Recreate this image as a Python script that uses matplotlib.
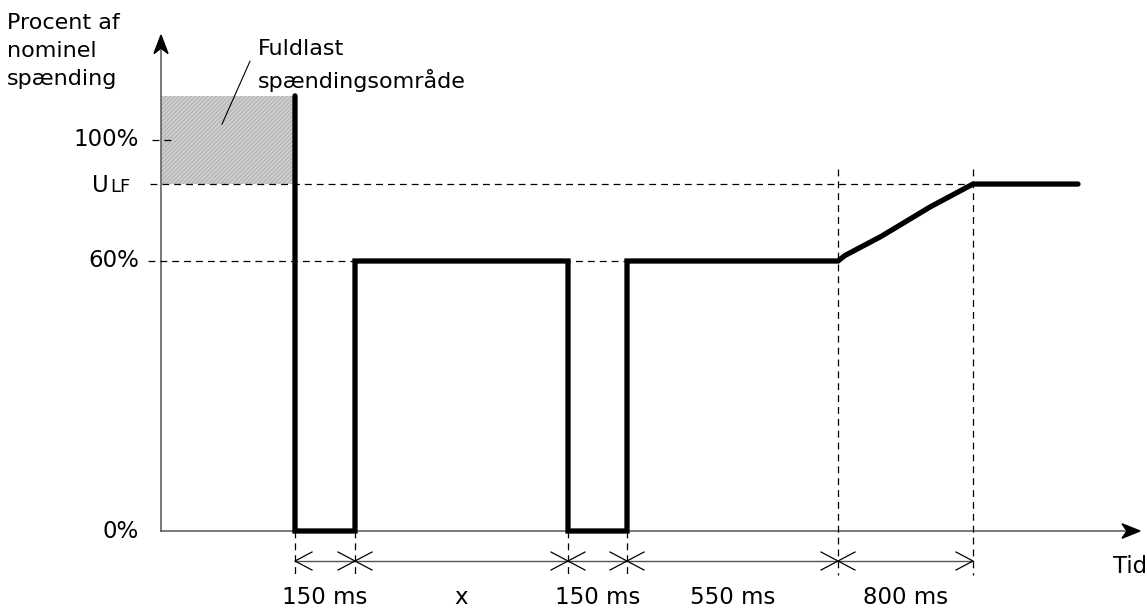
import matplotlib
matplotlib.use("Agg")
import matplotlib.pyplot as plt
from matplotlib.patches import Polygon, Rectangle
import numpy as np

plt.rcParams['font.family'] = ['DejaVu Sans']
plt.rcParams['hatch.linewidth'] = 0.6

# ---- data (schematic units) ----
segment_widths = [134, 60, 213, 59, 211, 135, 105]          # pre-fault, 150ms, x, 150ms, 550ms, 800ms, tail
segment_labels = ["", "150 ms", "x", "150 ms", "550 ms", "800 ms", ""]
level_names = ["0%", "60%", "ULF", "100%"]
level_pos = [0, 60, 77.1, 86.9]
band_top = 96.7                                              # top of full-load band
ramp_frac_x = [0.0, 0.05, 0.32, 0.68, 1.0]                   # ramp shape (fraction of 800 ms)
ramp_frac_y = [0.0, 0.07, 0.32, 0.70, 1.0]

edges = np.concatenate([[0], np.cumsum(segment_widths)])
t0, t1, t2, t3, t4, t5, t6 = edges[1:]
y0, y60, yulf, y100 = level_pos

# ---- figure ----
W, H = 1147, 610
ox, oy, ppu = 161, 531, 4.5
fig = plt.figure(figsize=(W/100, H/100), dpi=100)
ax = fig.add_axes([0, 0, 1, 1])
ax.set_xlim(-ox, W - ox)
ax.set_ylim(-(H - oy)/ppu, oy/ppu)
ax.axis('off')

axcol = '#555555'
dash = (0, (5.5, 4))
# shaded band
ax.add_patch(Rectangle((0, yulf), t0, band_top - yulf, facecolor='#cfcfcf',
                       edgecolor='#a9a9a9', hatch='////////', lw=0, zorder=1))
# axes lines
ax.plot([0, 0], [0, 107], color=axcol, lw=1.1, zorder=2)
ax.plot([0, 970], [0, 0], color=axcol, lw=1.1, zorder=2)
ya_tip = 110.2
ax.add_patch(Polygon([(0, ya_tip), (-7, ya_tip - 4.1), (0, ya_tip - 2.9), (7, ya_tip - 4.1)],
                     closed=True, color='black', zorder=3))
xa_tip = 979
ax.add_patch(Polygon([(xa_tip, 0), (xa_tip - 18, 1.6), (xa_tip - 13, 0), (xa_tip - 18, -1.6)],
                     closed=True, color='black', zorder=3))

# dashed reference lines
ax.plot([-11, t5], [yulf, yulf], color='black', lw=0.9, ls=dash, zorder=2)
ax.plot([-13, t3], [y60, y60], color='black', lw=0.9, ls=dash, zorder=2)
ax.plot([-9, 14], [y100, y100], color='black', lw=0.9, ls=dash, zorder=2)
for xv in [t4, t5]:
    ax.plot([xv, xv], [80.4, -9.8], color='black', lw=0.9, ls=dash, zorder=2)
for xv in [t0, t1, t2, t3]:
    ax.plot([xv, xv], [0, -9.8], color='black', lw=0.9, ls=dash, zorder=2)

# dimension line
ydim = -6.67
ax.plot([t0, t5], [ydim, ydim], color=axcol, lw=1.0, zorder=2)
L, h = 17, 2.0
for i, (a, b) in enumerate(zip(edges[1:-2], edges[2:-1])):
    for (px, d) in [(a, 1), (b, -1)]:
        ax.plot([px + d*L, px, px + d*L], [ydim + h, ydim, ydim - h], color='black', lw=0.9, zorder=3)
    ax.text((a + b)/2, -14.7, segment_labels[i + 1], ha='center', va='center', fontsize=16.5)

ax.text(969, -7.8, "Tid", ha='center', va='center', fontsize=16.5)

# voltage trace
rx = t4 + np.array(ramp_frac_x) * (t5 - t4)
ry = y60 + np.array(ramp_frac_y) * (yulf - y60)
xs = [t0, t0, t1, t1, t2, t2, t3, t3] + list(rx) + [t6]
ys = [band_top, y0, y0, y60, y60, y0, y0, y60] + list(ry) + [yulf]
ax.plot(xs, ys, color='black', lw=3.8, solid_capstyle='round', solid_joinstyle='miter', zorder=4)

# y labels
xr = -22
for name, pos in zip(level_names, level_pos):
    if name == "ULF":
        ax.text(-52, 75.3, "U", ha='right', va='baseline', fontsize=16.5)
        ax.text(-31, 75.3, "LF", ha='right', va='baseline', fontsize=13)
    else:
        ax.text(xr, pos, name, ha='right', va='center', fontsize=16.5)

# titles
ax.text(-154, 115.2, "Procent af\nnominel\nspænding", ha='left', va='top', fontsize=16, linespacing=1.5)
ax.text(97, 109.4, "Fuldlast\nspændingsområde", ha='left', va='top', fontsize=16, linespacing=1.55)
ax.plot([89, 61], [104.4, 90.4], color='black', lw=0.8, zorder=3)

fig.savefig("out.png", dpi=100)
